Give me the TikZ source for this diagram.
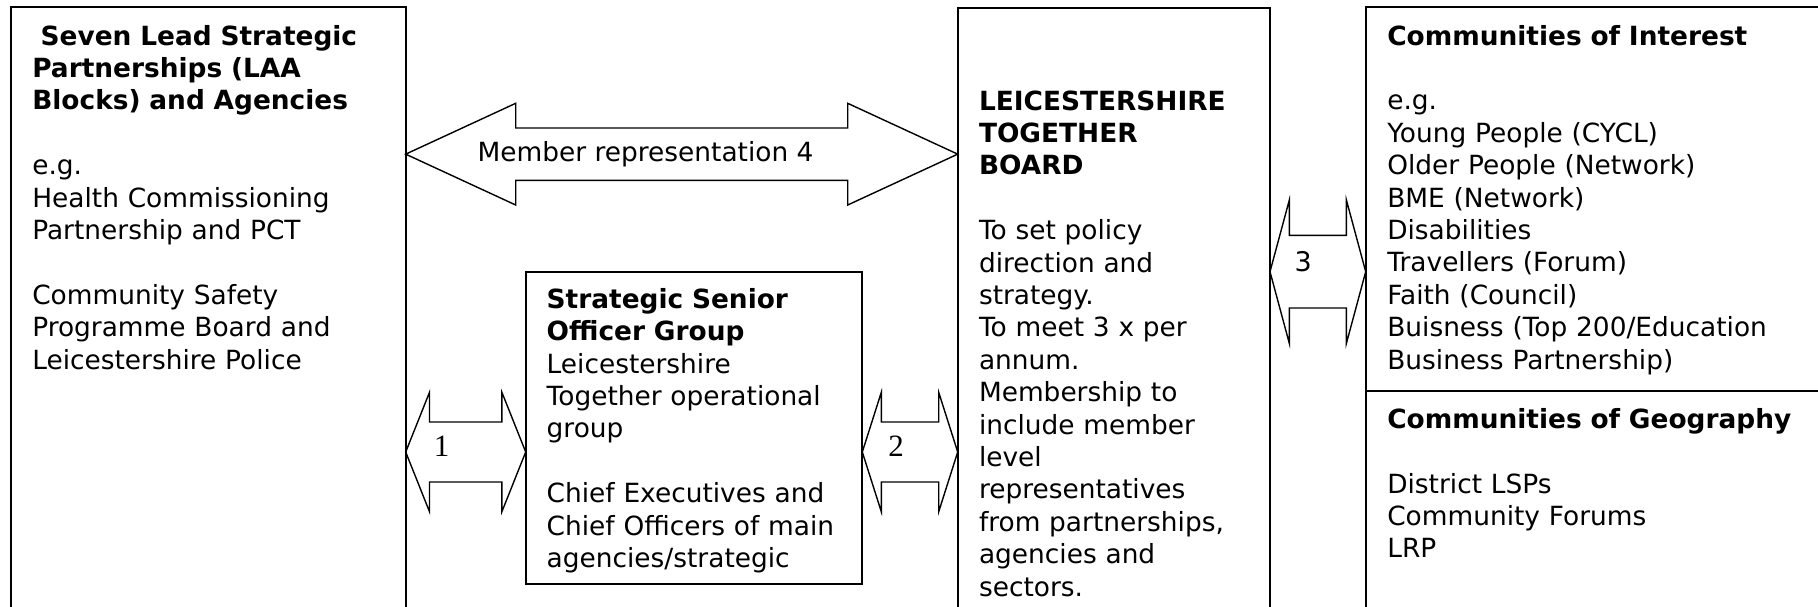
\documentclass[tikz,border=0pt]{standalone}
\usepackage{fontspec}
\setmainfont{DejaVu Sans}
\newfontfamily\numserif{Liberation Serif}
\usetikzlibrary{calc}
\newcommand{\dblockarrow}[5]{%
  \draw[blockarrow] (#1) -- ++(#3,-#4) -- ($(#1)+(#3,-#5)$) -- ($(#2)+(-#3,-#5)$)
    -- ($(#2)+(-#3,-#4)$) -- (#2) -- ($(#2)+(-#3,#4)$) -- ($(#2)+(-#3,#5)$)
    -- ($(#1)+(#3,#5)$) -- ($(#1)+(#3,#4)$) -- cycle;}
\begin{document}
\begin{tikzpicture}[x=1pt,y=-1pt,
  box/.style={draw=black, line width=2pt, rectangle, inner sep=0pt, outer sep=0pt, anchor=north west},
  txt/.style={anchor=base west, inner sep=0pt, outer sep=0pt, text width=#1, align=left,
              font=\fontsize{26.4}{32.4}\selectfont},
  lbl/.style={inner sep=0pt, outer sep=0pt, font=\fontsize{26.4}{32.4}\selectfont},
  blockarrow/.style={draw=black, line width=1.4pt, line join=miter},
  num/.style={inner sep=0pt, outer sep=0pt, font=\numserif\fontsize{31}{31}\selectfont}
]
\useasboundingbox (0,0) rectangle (1818,606);
\fill[white] (0,0) rectangle (1818,606);
\clip (0,0) rectangle (1818,606);

% boxes
\node[box, minimum width=394.7pt, minimum height=640pt] (lb) at (11,7.3) {};
\node[box, minimum width=336.6pt, minimum height=311.7pt] (mb) at (525.7,272.3) {};
\node[box, minimum width=312.3pt, minimum height=640pt] (bb) at (957.7,7.7) {};
\node[box, minimum width=480pt, minimum height=640pt] (rb) at (1365.7,7.3) {};
\draw[line width=2pt] (rb.west |- 0,391) -- (rb.east |- 0,391);

% block arrows
\coordinate (a4l) at (lb.east |- 0,154.15);
\coordinate (a4r) at (bb.west |- 0,154.15);
\dblockarrow{a4l}{a4r}{110}{50.85}{26.2}
\coordinate (a1l) at (lb.east |- 0,452);
\coordinate (a1r) at (mb.west |- 0,452);
\dblockarrow{a1l}{a1r}{23.8}{59.7}{30}
\coordinate (a2l) at (mb.east |- 0,452);
\coordinate (a2r) at (bb.west |- 0,452);
\dblockarrow{a2l}{a2r}{19}{59.7}{30}
\coordinate (a3l) at (bb.east |- 0,271.7);
\coordinate (a3r) at (rb.west |- 0,271.7);
\dblockarrow{a3l}{a3r}{19.3}{71.65}{36.3}

% arrow labels
\node[lbl, anchor=base west] (l4) at (477.7,161) {Member representation 4};
\node[num] (l1) at (441.5,446.3) {1};
\node[num] (l2) at (896,446.7) {2};
\node[inner sep=0pt, font=\fontsize{27}{27}\selectfont] (l3) at (1303.3,261.7) {3};

% texts
\node[txt=380pt] (lt) at (32.3,45) {\hspace*{8.4pt}\textbf{Seven Lead Strategic}\\
\textbf{Partnerships (LAA}\\
\textbf{Blocks) and Agencies}\\[32.4pt]
e.g.\\
Health Commissioning\\
Partnership and PCT\\[32.4pt]
Community Safety\\
Programme Board and\\
Leicestershire Police};

\begin{scope}
\clip (mb.north west) rectangle (mb.east |- 0,573.3);
\node[txt=320pt] (mt) at (546.7,308.2) {\textbf{Strategic Senior}\\
\textbf{Officer Group}\\
Leicestershire\\
Together operational\\
group\\[32.4pt]
Chief Executives and\\
Chief Officers of main\\
agencies/strategic};
\end{scope}

\node[txt=330pt] (bt) at (979,110) {\textbf{LEICESTERSHIRE}\\
\textbf{TOGETHER}\\
\textbf{BOARD}\\[32.4pt]
To set policy\\
direction and\\
strategy.\\
To meet 3 x per\\
annum.\\
Membership to\\
include member\\
level\\
representatives\\
from partnerships,\\
agencies and\\
sectors.};

\node[txt=440pt] (rt1) at (1387.3,45) {\textbf{Communities of Interest}\\[32.4pt]
e.g.\\
Young People (CYCL)\\
Older People (Network)\\
BME (Network)\\
Disabilities\\
Travellers (Forum)\\
Faith (Council)\\
Buisness (Top 200/Education\\
Business Partnership)};

\node[txt=440pt] (rt2) at (1387.3,428.3) {\textbf{Communities of Geography}\\[32.4pt]
District LSPs\\
Community Forums\\
LRP};
\end{tikzpicture}
\end{document}
